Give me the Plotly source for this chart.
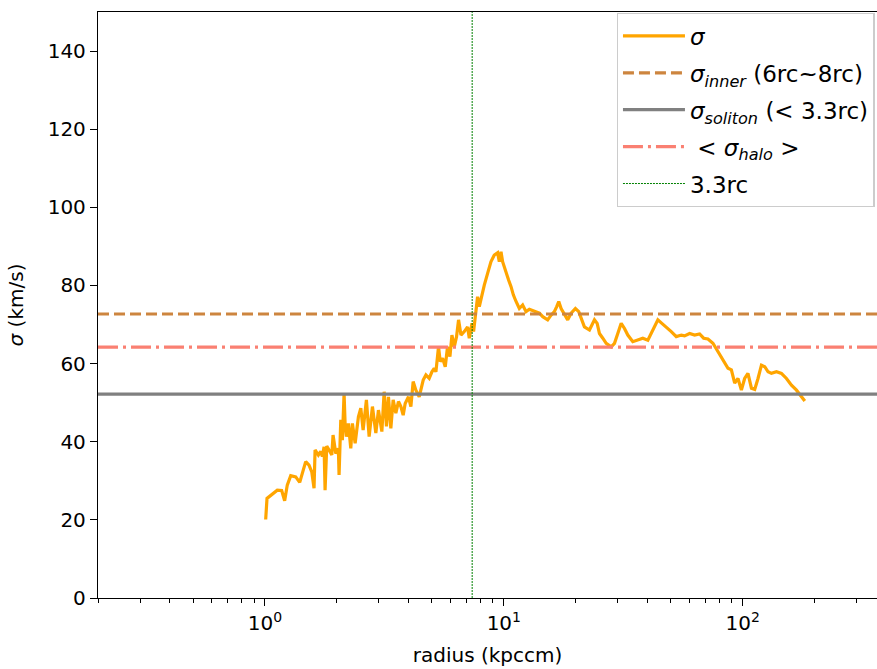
import plotly.graph_objects as go
import math

radius = [1.007, 1.02, 1.126, 1.175, 1.209, 1.240, 1.282, 1.345, 1.398, 1.481, 1.529, 1.570, 1.605, 1.621,
          1.673, 1.712, 1.739, 1.768, 1.785, 1.814, 1.855, 1.905, 1.928, 1.979, 2.029, 2.043, 2.077, 2.109,
          2.144, 2.165, 2.192, 2.235, 2.287, 2.323, 2.385, 2.462, 2.519, 2.576, 2.659, 2.730, 2.818, 2.912,
          2.986, 3.086, 3.155, 3.226, 3.289, 3.365, 3.441, 3.532, 3.622, 3.707, 3.790, 3.864, 3.989, 4.082,
          4.173, 4.284, 4.423, 4.496, 4.597, 4.718, 4.870, 5.000, 5.112, 5.196, 5.328, 5.417, 5.539, 5.685,
          5.813, 5.948, 6.064, 6.201, 6.340, 6.464, 6.616, 6.830, 7.051, 7.168, 7.358, 7.472, 7.646, 7.765,
          7.894, 8.102, 8.284, 8.553, 8.838, 9.124, 9.419, 9.574, 9.734, 9.885, 10.21, 10.47, 10.72, 10.96,
          11.25, 11.61, 11.99, 12.39, 12.79, 13.43, 14.09, 14.55, 15.26, 15.77, 16.28, 16.65, 16.98, 17.37,
          17.94, 18.51, 19.13, 19.94, 20.59, 21.07, 21.75, 22.83, 23.96, 24.59, 25.14, 25.96, 26.83, 28.15,
          29.06, 30.00, 31.00, 32.00, 33.04, 34.67, 36.39, 38.19, 40.08, 42.06, 44.15, 45.88, 47.87, 50.23,
          52.72, 55.34, 57.13, 59.96, 62.91, 66.03, 68.63, 71.54, 75.07, 78.03, 81.42, 84.06, 86.79, 89.67,
          92.58, 95.57, 98.76, 101.9, 105.2, 108.8, 112.3, 115.9, 119.8, 123.7, 127.7, 131.9, 138.5, 145.3,
          152.5, 160.0, 168.0, 176.3, 182.0]
sigma = [20.1, 25.5, 27.6, 27.5, 24.9, 28.9, 31.3, 31.0, 29.6, 34.9, 34.0, 32.3, 28.1, 37.9,
         36.6, 37.5, 36.2, 38.7, 27.6, 38.9, 37.9, 36.6, 41.7, 37.0, 38.3, 31.5, 45.6, 40.4,
         52.4, 44.7, 41.3, 44.7, 38.3, 44.7, 39.6, 46.4, 48.6, 43.0, 50.7, 41.3, 49.0, 42.2,
         48.1, 42.6, 52.8, 43.9, 51.5, 43.4, 50.7, 47.3, 50.3, 49.0, 46.8, 49.8, 51.5, 49.0,
         55.4, 53.2, 51.5, 53.7, 55.8, 57.1, 56.2, 57.9, 58.8, 57.9, 64.3, 60.5, 61.4, 59.2,
         64.3, 61.8, 67.3, 64.3, 66.9, 71.2, 67.3, 68.2, 69.4, 66.5, 70.3, 68.2, 73.7, 77.1,
         74.6, 78.0, 80.1, 83.1, 86.1, 87.8, 88.4, 86.1, 88.6, 86.1, 83.1, 81.4, 79.7, 77.6,
         75.9, 74.1, 75.0, 73.3, 73.9, 73.3, 72.9, 72.0, 71.2, 72.4, 73.3, 74.6, 75.9, 74.1,
         72.4, 71.2, 72.9, 74.1, 73.3, 71.6, 69.4, 68.6, 71.2, 70.3, 67.7, 66.5, 65.2, 64.3,
         65.2, 67.7, 70.3, 69.0, 67.3, 65.6, 66.0, 66.5, 66.0, 68.6, 71.2, 70.3, 69.4, 68.2,
         66.9, 67.3, 67.1, 67.7, 67.3, 67.6, 66.5, 66.3, 65.2, 63.5, 61.8, 60.5, 58.8, 58.4,
         55.0, 56.2, 53.2, 56.2, 57.5, 53.7, 53.4, 56.2, 59.6, 59.2, 57.9, 57.5, 57.9, 57.5,
         56.2, 54.5, 53.2, 51.5, 50.4]

sigma_inner = 72.7
sigma_soliton = 52.2
sigma_halo = 64.2
r_core_cut = 7.37  # 3.3 rc

x_range = [0.2, 365]
y_range = [0, 150]
x_tickvals = [1, 10, 100]
x_ticktext = ["10<sup>0</sup>", "10<sup>1</sup>", "10<sup>2</sup>"]
y_tickvals = [0, 20, 40, 60, 80, 100, 120, 140]

font = "DejaVu Sans"

fig = go.Figure()
fig.add_trace(go.Scatter(x=radius, y=sigma, mode="lines", name="<i>σ</i>", legendgroup="a",
                         line=dict(color="#FFA500", width=3.2)))
fig.add_trace(go.Scatter(x=x_range, y=[sigma_inner] * 2, mode="lines", legendgroup="b",
                         name="<i>σ<sub>inner</sub></i> (6rc~8rc)",
                         line=dict(color="#CD853F", width=3.2, dash="11px,5px")))
fig.add_trace(go.Scatter(x=x_range, y=[sigma_soliton] * 2, mode="lines", legendgroup="c",
                         name="<i>σ<sub>soliton</sub></i> (&lt; 3.3rc)",
                         line=dict(color="#808080", width=3.2)))
fig.add_trace(go.Scatter(x=x_range, y=[sigma_halo] * 2, mode="lines", legendgroup="d",
                         name=" &lt; <i>σ<sub>halo</sub></i> &gt;",
                         line=dict(color="#FA8072", width=3.2, dash="20px,5px,3px,5px")))
fig.add_trace(go.Scatter(x=[r_core_cut] * 2, y=y_range, mode="lines", name="3.3rc", legendgroup="e",
                         line=dict(color="#008000", width=1, dash="2px,1px")))

axis_common = dict(showline=True, linecolor="black", linewidth=1.3, mirror=True,
                   ticks="outside", ticklen=7, tickwidth=1.3, tickcolor="black",
                   showgrid=False, zeroline=False, automargin=False,
                   tickfont=dict(family=font, size=20, color="black"))

fig.update_xaxes(type="log", range=[math.log10(x_range[0]), math.log10(x_range[1])],
                 tickvals=x_tickvals, ticktext=x_ticktext,
                 minor=dict(ticks="outside", ticklen=4, tickwidth=1, tickcolor="black",
                            dtick="D1", showgrid=False),
                 title=dict(text="radius (kpccm)", font=dict(family=font, size=20, color="black"),
                            standoff=13),
                 **axis_common)
fig.update_yaxes(range=y_range, tickvals=y_tickvals,
                 title=dict(text="<i>σ</i> (km/s)", font=dict(family=font, size=20, color="black"),
                            standoff=18),
                 **axis_common)

fig.update_layout(
    width=877, height=669,
    margin=dict(l=98, r=0, t=12, b=71),
    plot_bgcolor="white", paper_bgcolor="white",
    font=dict(family=font, color="black"),
    legend=dict(x=0.997, y=0.998, xanchor="right", yanchor="top",
                font=dict(family=font, size=23, color="black"),
                bgcolor="rgba(255,255,255,0.8)", bordercolor="#CCCCCC", borderwidth=1.3,
                itemwidth=62, tracegroupgap=4, traceorder="grouped"),
)

fig.write_html("out.html", config={"displayModeBar": False},
               post_script="document.body.style.margin='0';document.body.style.padding='0';")
